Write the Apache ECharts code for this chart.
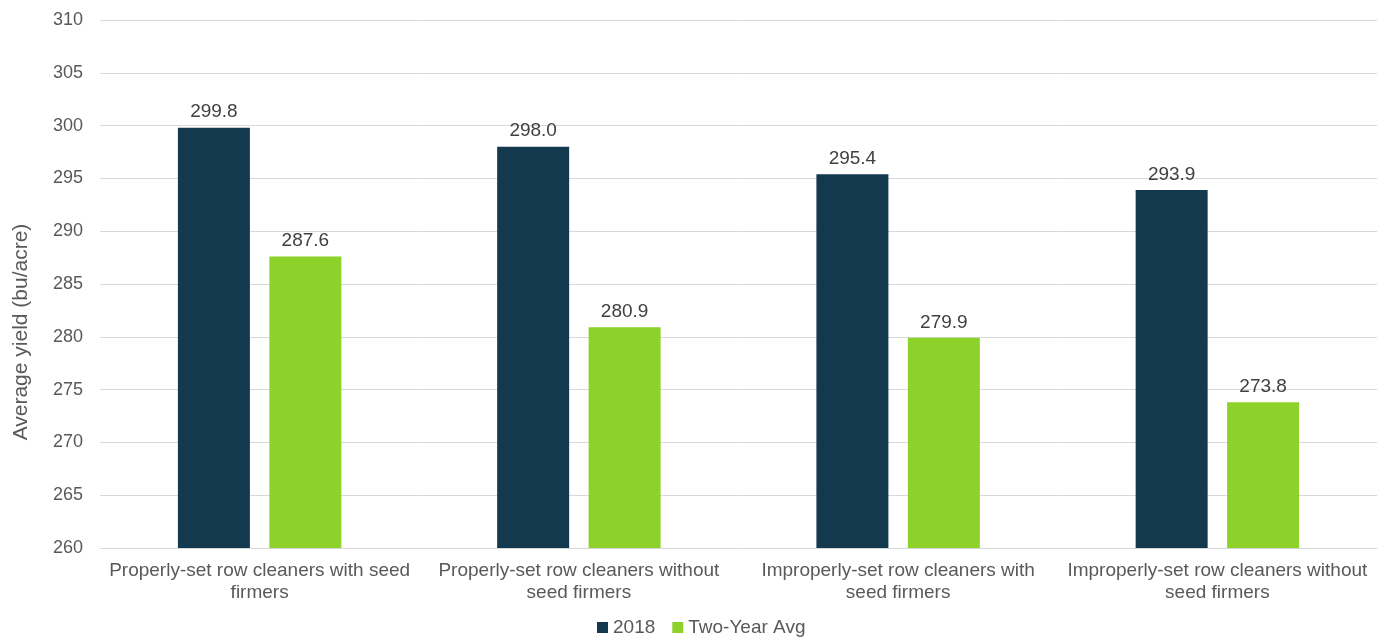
<!DOCTYPE html>
<html><head><meta charset="utf-8">
<script src="https://cdn.jsdelivr.net/npm/echarts@6/dist/echarts.min.js"></script>
<style>html,body{margin:0;padding:0;background:#fff}#c{width:1384px;height:639px}</style>
</head><body><div id="c"></div>
<script>
const categories = [
  "Properly-set row cleaners with seed\nfirmers",
  "Properly-set row cleaners without\nseed firmers",
  "Improperly-set row cleaners with\nseed firmers",
  "Improperly-set row cleaners without\nseed firmers"
];
const series2018 = [299.8, 298.0, 295.4, 293.9];
const seriesTwoYear = [287.6, 280.9, 279.9, 273.8];
const seriesNames = ["2018", "Two-Year Avg"];

const chart = echarts.init(document.getElementById('c'), null, {renderer: 'canvas'});
const font = 'Liberation Sans, Arial, sans-serif';
chart.setOption({
  animation: false,
  textStyle: {fontFamily: font},
  grid: {left: 100, right: 7, top: 20, bottom: 91, containLabel: false},
  legend: {
    bottom: -3, left: 592, itemWidth: 11, itemHeight: 11, itemGap: 17,
    icon: 'rect',
    textStyle: {color: '#595959', fontSize: 19, fontFamily: font},
    data: seriesNames
  },
  xAxis: {
    type: 'category', data: categories,
    axisLine: {lineStyle: {color: '#d9d9d9', width: 1}},
    axisTick: {show: false},
    axisLabel: {color: '#595959', fontSize: 19, lineHeight: 22, margin: 12, interval: 0}
  },
  yAxis: {
    type: 'value', min: 260, max: 310, interval: 5,
    name: 'Average yield (bu/acre)', nameLocation: 'middle', nameGap: 68,
    nameTextStyle: {color: '#595959', fontSize: 21, fontFamily: font, padding: [0, 96, 0, 0]},
    axisLine: {show: false}, axisTick: {show: false},
    axisLabel: {color: '#595959', fontSize: 18, margin: 17},
    splitLine: {lineStyle: {color: '#d9d9d9', width: 1}}
  },
  series: [
    {name: seriesNames[0], type: 'bar', data: series2018, barWidth: 72, barGap: '27%',
     itemStyle: {color: '#12394e'},
     label: {show: true, position: 'top', color: '#404040', fontSize: 19, distance: 6,
       formatter: p => p.value.toFixed(1)}},
    {name: seriesNames[1], type: 'bar', data: seriesTwoYear, barWidth: 72,
     itemStyle: {color: '#8dd22a'},
     label: {show: true, position: 'top', color: '#404040', fontSize: 19, distance: 6,
       formatter: p => p.value.toFixed(1)}}
  ]
});
</script></body></html>
